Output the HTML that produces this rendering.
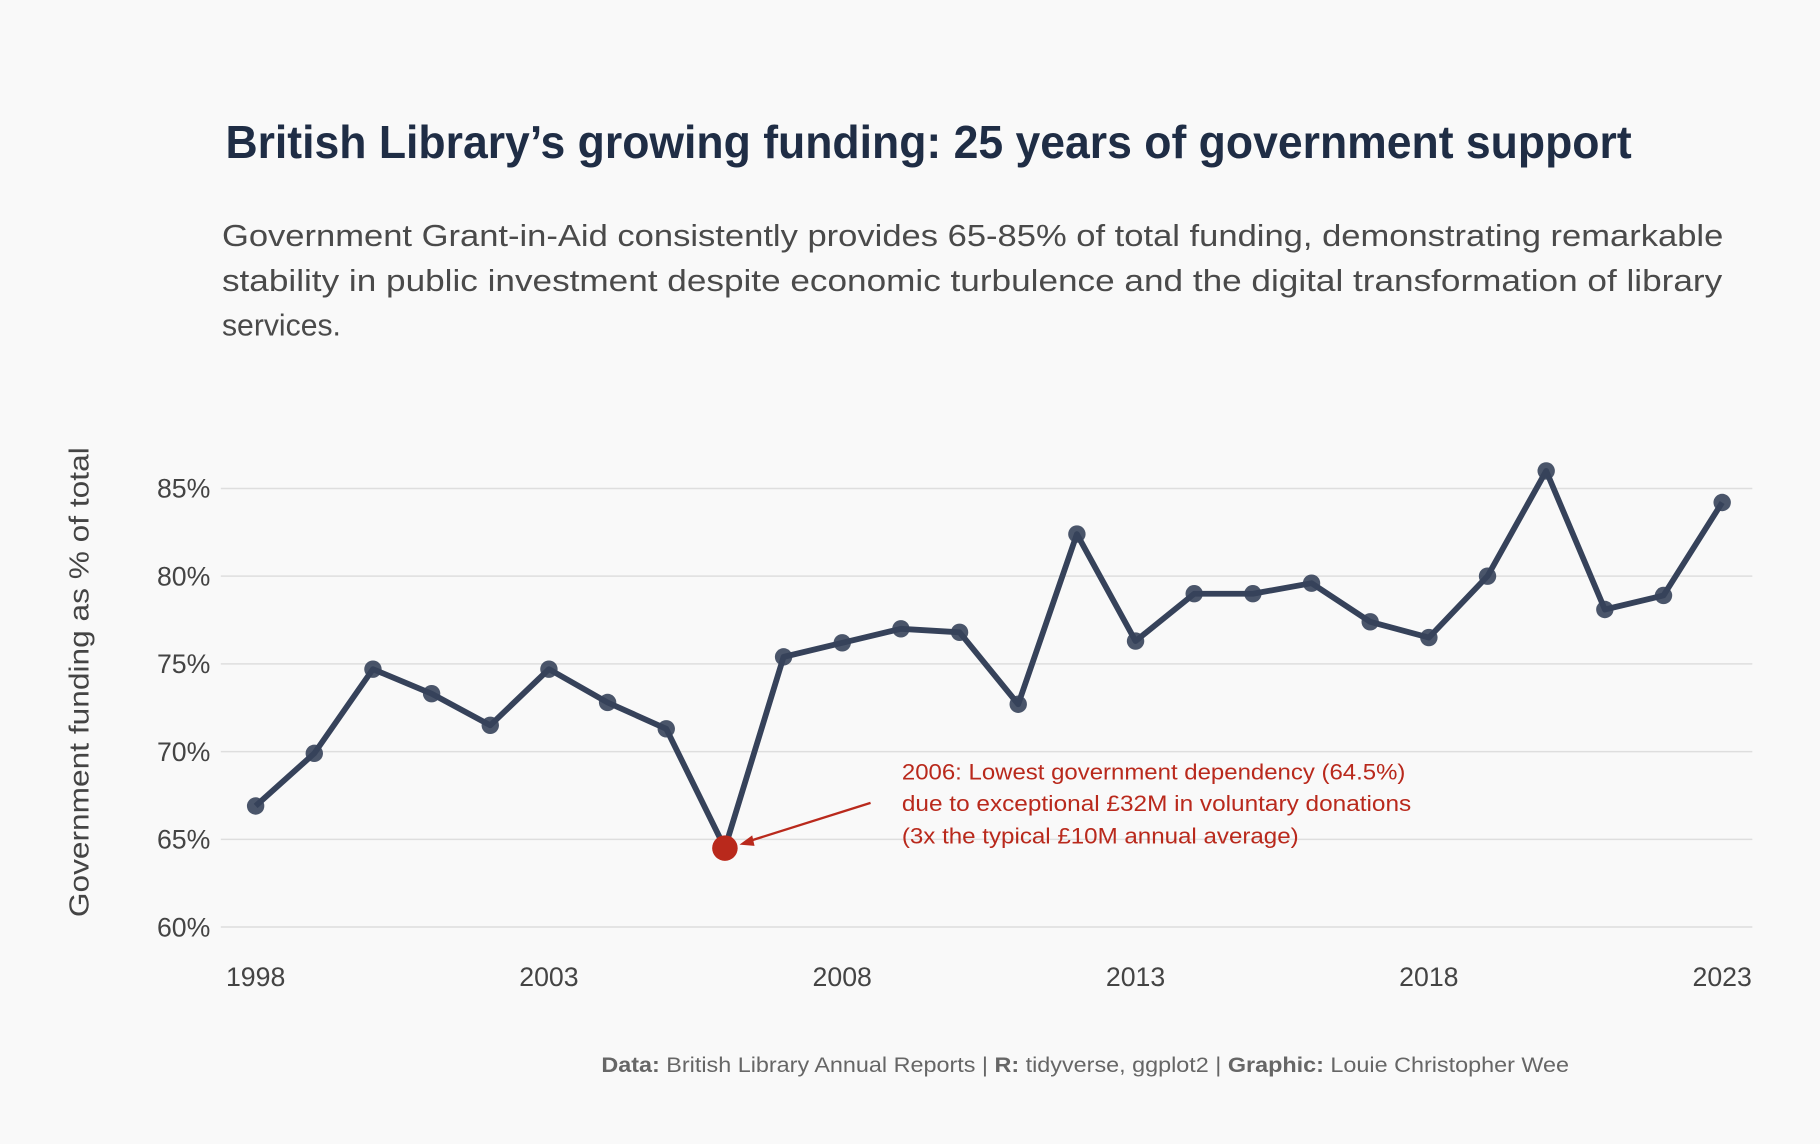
<!DOCTYPE html>
<html><head><meta charset="utf-8">
<style>
html,body{margin:0;padding:0;background:#f9f9f9;}
svg{display:block;font-family:"Liberation Sans",sans-serif;}
</style></head>
<body>
<svg id="chart" width="1820" height="1144" viewBox="0 0 1568 986" xmlns="http://www.w3.org/2000/svg">
<rect width="1568" height="986" fill="#f9f9f9"/>
<text x="194" y="136" font-size="40" font-weight="bold" fill="#1f2d45" textLength="1212" lengthAdjust="spacingAndGlyphs">British Library’s growing funding: 25 years of government support</text>
<g font-size="26" fill="#4a4a4a">
<text x="191" y="212" textLength="1294" lengthAdjust="spacingAndGlyphs">Government Grant-in-Aid consistently provides 65-85% of total funding, demonstrating remarkable</text>
<text x="191" y="251" textLength="1293" lengthAdjust="spacingAndGlyphs">stability in public investment despite economic turbulence and the digital transformation of library</text>
<text x="191" y="289">services.</text>
</g>
<g id="grid"></g>
<g id="yticks"></g>
<g id="xticks"></g>
<text transform="translate(76,588) rotate(-90)" text-anchor="middle" font-size="24" fill="#444" textLength="405" lengthAdjust="spacingAndGlyphs">Government funding as % of total</text>
<g id="series"></g>
<g>
<line x1="750" y1="692" x2="642" y2="726" stroke="#b9291c" stroke-width="2"/>
<polygon points="637,728 648,720 650,729" fill="#b9291c"/>
<g font-size="19" fill="#b9291c">
<text x="777" y="672" textLength="434" lengthAdjust="spacingAndGlyphs">2006: Lowest government dependency (64.5%)</text>
<text x="777" y="699" textLength="439" lengthAdjust="spacingAndGlyphs">due to exceptional £32M in voluntary donations</text>
<text x="777" y="727" textLength="342" lengthAdjust="spacingAndGlyphs">(3x the typical £10M annual average)</text>
</g></g>
<text x="518" y="924" font-size="18" fill="#666" textLength="834" lengthAdjust="spacingAndGlyphs"><tspan font-weight="bold">Data:</tspan> British Library Annual Reports | <tspan font-weight="bold">R:</tspan> tidyverse, ggplot2 | <tspan font-weight="bold">Graphic:</tspan> Louie Christopher Wee</text>
</svg>
<script>
const years = [1998,1999,2000,2001,2002,2003,2004,2005,2006,2007,2008,2009,2010,2011,2012,2013,2014,2015,2016,2017,2018,2019,2020,2021,2022,2023];
const govShare = [66.9,69.9,74.7,73.3,71.5,74.7,72.8,71.3,64.5,75.4,76.2,77.0,76.8,72.7,82.4,76.3,79.0,79.0,79.6,77.4,76.5,80.0,86.0,78.1,78.9,84.2];
const yTicks = [60,65,70,75,80,85];
const xTicks = [1998,2003,2008,2013,2018,2023];
const highlightYear = 2006;

const NS="http://www.w3.org/2000/svg";
const X0=220,X1=1484,Y0=799,Y1=421;
const xs=v=>X0+(v-1998)/(2023-1998)*(X1-X0);
const ys=v=>Y0-(v-60)/(85-60)*(Y0-Y1);
function mk(tag,attrs,parent){const e=document.createElementNS(NS,tag);for(const k in attrs)e.setAttribute(k,attrs[k]);parent.appendChild(e);return e;}
const grid=document.getElementById('grid'),yt=document.getElementById('yticks'),xt=document.getElementById('xticks'),ser=document.getElementById('series');
yTicks.forEach(t=>{
  const l=mk('line',{x1:190,x2:1510,y1:ys(t),y2:ys(t),stroke:'#dedede','stroke-width':1.3},grid);
  
  
  const tx=mk('text',{x:181,y:ys(t)+8,'text-anchor':'end','font-size':23,fill:'#444'},yt);
  tx.textContent=t+'%';
  
  
});
xTicks.forEach(t=>{
  const tx=mk('text',{x:xs(t),y:850,'text-anchor':'middle','font-size':23,fill:'#444'},xt);
  tx.textContent=t;
  
  
});
const pts=years.map((y,i)=>xs(y)+','+ys(govShare[i])).join(' ');
const pl=mk('polyline',{points:pts,fill:'none',stroke:'#36425a','stroke-width':5,'stroke-linejoin':'round'},ser);


years.forEach((y,i)=>{
  const hl=y===highlightYear;
  const c=mk('circle',{cx:xs(y),cy:ys(govShare[i]),r:hl?11:7.5,fill:hl?'#b9291c':'#36425a','fill-opacity':hl?1:0.9},ser);
  
  
});
</script>
</body></html>
